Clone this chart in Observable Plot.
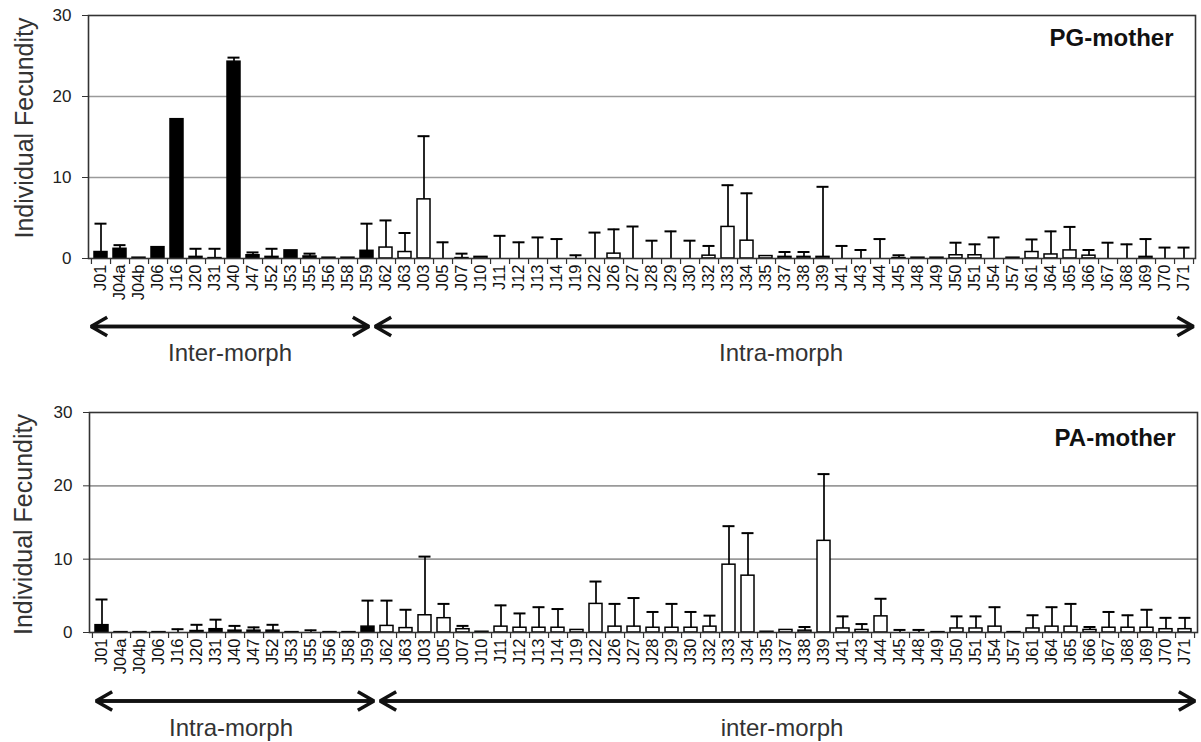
<!DOCTYPE html>
<html>
<head>
<meta charset="utf-8">
<script src="https://cdn.jsdelivr.net/npm/d3@7"></script>
<script src="https://cdn.jsdelivr.net/npm/@observablehq/plot@0.6"></script>
<style>
  html, body { margin: 0; padding: 0; background: #fff; }
  #chart svg { display: block; }
</style>
</head>
<body>
<div id="chart"></div>
<script>
// ---------- data ----------
const categories = ["J01","J04a","J04b","J06","J16","J20","J31","J40","J47","J52","J53","J55","J56","J58","J59",
  "J62","J63","J03","J05","J07","J10","J11","J12","J13","J14","J19","J22","J26","J27","J28","J29","J30","J32","J33","J34",
  "J35","J37","J38","J39","J41","J43","J44","J45","J48","J49","J50","J51","J54","J57","J61","J64","J65","J66","J67","J68",
  "J69","J70","J71"];

// categories drawn with black (filled) bars
const filledCategories = ["J01","J04a","J04b","J06","J16","J20","J31","J40","J47","J52","J53","J55","J56","J58","J59"];

// PG-mother: mean and upper end of error bar (null = no error bar)
const pgMean = [0.8, 1.2, 0.1, 1.4, 17.2, 0.2, 0.05, 24.3, 0.4, 0.2, 1.0, 0.25, 0.1, 0.1, 0.95,
  1.35, 0.8, 7.3, 0, 0.05, 0.2, 0, 0, 0, 0,
  0, 0, 0.6, 0, 0, 0, 0, 0.35, 3.9, 2.2,
  0.3, 0.2, 0.2, 0.2, 0, 0, 0, 0.05, 0.1, 0.1,
  0.4, 0.4, 0, 0.1, 0.8, 0.5, 1.0, 0.35, 0, 0,
  0.2, 0, 0];
const pgErr = [4.3, 1.65, null, null, null, 1.2, 1.2, 24.8, 0.75, 1.2, null, 0.6, null, null, 4.3,
  4.7, 3.15, 15.1, 2.0, 0.6, null, 2.8, 2.0, 2.6, 2.4,
  0.4, 3.2, 3.6, 3.95, 2.2, 3.35, 2.2, 1.55, 9.05, 8.05,
  null, 0.8, 0.8, 8.85, 1.55, 1.05, 2.4, 0.4, null, null,
  1.95, 1.75, 2.6, null, 2.35, 3.35, 3.9, 1.05, 1.95, 1.75,
  2.4, 1.35, 1.35];

// PA-mother
const paMean = [1.0, 0.05, 0.05, 0.05, 0, 0.2, 0.45, 0.25, 0.25, 0.25, 0.05, 0, 0.05, 0.05, 0.8,
  0.9, 0.6, 2.35, 1.95, 0.45, 0.1, 0.8, 0.65, 0.65, 0.65,
  0.35, 3.9, 0.8, 0.8, 0.65, 0.65, 0.65, 0.8, 9.25, 7.75,
  0.1, 0.35, 0.25, 12.5, 0.55, 0.35, 2.2, 0, 0, 0.05,
  0.55, 0.55, 0.8, 0.05, 0.55, 0.8, 0.8, 0.35, 0.65, 0.65,
  0.65, 0.45, 0.45];
const paErr = [4.5, null, null, null, 0.45, 1.05, 1.75, 0.9, 0.7, 1.05, null, 0.3, null, null, 4.35,
  4.35, 3.1, 10.35, 3.9, 0.9, null, 3.7, 2.6, 3.45, 3.2,
  null, 6.95, 3.9, 4.7, 2.8, 3.9, 2.8, 2.3, 14.5, 13.55,
  null, null, 0.75, 21.6, 2.2, 1.15, 4.6, 0.35, 0.35, null,
  2.2, 2.2, 3.45, null, 2.35, 3.45, 3.9, 0.75, 2.8, 2.35,
  3.1, 2.0, 2.0];

const yTicks = [0, 10, 20, 30];
const yLabel = "Individual Fecundity";

// ---------- drawing ----------
const W = 1201;
const FONT = "'Liberation Sans', Arial, Helvetica, sans-serif";

function panel(o) {
  const rows = categories.map((c, i) => ({cat: c, mean: o.mean[i], err: o.err[i], filled: filledCategories.includes(c)}));
  const errRows = rows.filter(d => d.err != null);
  const step = (W - o.ml - o.mr) / categories.length;
  const pxPerUnit = (o.height - o.mt - o.mb) / 30;
  const tickLen = 6 / pxPerUnit;
  const nF = filledCategories.length;
  const segs = [
    {from: categories[0], to: categories[nF - 1], label: o.leftLabel, at: "J40", ins: o.leftIns},
    {from: categories[nF], to: categories[categories.length - 1], label: o.rightLabel, at: "J37", ins: o.rightIns}
  ];
  const arrowStyle = {stroke: "#111", strokeWidth: 3.5, headLength: 8, headAngle: 60, strokeLinejoin: "miter", strokeLinecap: "butt"};
  const arrows = segs.flatMap(s => [
    Plot.arrow([s], {x1: "from", x2: "to", y1: 0, y2: 0, dy: o.arrowDy, insetStart: s.ins[0], insetEnd: s.ins[1], ...arrowStyle}),
    Plot.arrow([s], {x1: "to", x2: "from", y1: 0, y2: 0, dy: o.arrowDy, insetStart: s.ins[1], insetEnd: s.ins[0], ...arrowStyle})
  ]);
  return Plot.plot({
    width: W, height: o.height,
    marginTop: o.mt, marginBottom: o.mb, marginLeft: o.ml, marginRight: o.mr,
    style: {fontFamily: FONT, background: "#fff", color: "#222"},
    x: {domain: categories, padding: 0, label: null},
    y: {domain: [0, 30], label: null},
    marks: [
      Plot.ruleY([10, 20], {stroke: "#9a9a9a", strokeWidth: 1.6}),
      Plot.barY(rows.filter(d => d.filled), {x: "cat", y: "mean", fill: "#000", stroke: "#000", strokeWidth: 1.5, insetLeft: 3, insetRight: 3}),
      Plot.barY(rows.filter(d => !d.filled), {x: "cat", y: "mean", fill: "#fff", stroke: "#000", strokeWidth: 1.5, insetLeft: 3, insetRight: 3}),
      Plot.ruleX(errRows, {x: "cat", y1: "mean", y2: "err", stroke: "#000", strokeWidth: 1.7}),
      Plot.tickY(errRows, {x: "cat", y: "err", stroke: "#000", strokeWidth: 2, insetLeft: 3.5, insetRight: 3.5}),
      Plot.frame({stroke: "#333", strokeWidth: 1.6}),
      // ticks at category boundaries
      Plot.ruleX(categories, {x: d => d, y1: 0, y2: -tickLen, dx: step / 2, stroke: "#333", strokeWidth: 1.2}),
      Plot.ruleX(categories.slice(0, 1), {x: d => d, y1: 0, y2: -tickLen, dx: -step / 2, stroke: "#333", strokeWidth: 1.2}),
      Plot.axisY({ticks: yTicks, tickSize: 6, tickPadding: 11, fontSize: 17, label: null, stroke: "#333"}),
      Plot.axisX({tickSize: 0, tickPadding: 6, tickRotate: -90, fontSize: 16.5, label: null, fill: "#111"}),
      Plot.text([yLabel], {frameAnchor: "left", text: d => d, rotate: -90, textAnchor: "middle", lineAnchor: "middle",
        dx: o.ylabDx, dy: o.ylabDy, fontSize: 25, fill: "#333"}),
      Plot.text([o.title], {frameAnchor: "top-right", text: d => d, textAnchor: "end", lineAnchor: "middle",
        dx: -22, dy: o.titleDy, fontSize: 24, fontWeight: "bold", fill: "#111"}),
      ...arrows,
      Plot.text(segs, {x: "at", y: 0, text: "label", dy: o.textDy, dx: -4, fontSize: 24, fill: "#333", lineAnchor: "middle"})
    ]
  });
}

const chart = document.getElementById("chart");
chart.append(panel({
  mean: pgMean, err: pgErr, title: "PG-mother", leftLabel: "Inter-morph", rightLabel: "Intra-morph",
  height: 385, mt: 15, mb: 127, ml: 88, mr: 6,
  arrowDy: 68, textDy: 95, titleDy: 23, ylabDx: -64, ylabDy: -9,
  leftIns: [-10, -2], rightIns: [-11, -9.5]
}));
chart.append(panel({
  mean: paMean, err: paErr, title: "PA-mother", leftLabel: "Intra-morph", rightLabel: "inter-morph",
  height: 357, mt: 27, mb: 110, ml: 89, mr: 4,
  arrowDy: 68.5, textDy: 95.5, titleDy: 26, ylabDx: -66, ylabDy: 2,
  leftIns: [-6, -6], rightIns: [-7, -10]
}));
</script>
</body>
</html>
